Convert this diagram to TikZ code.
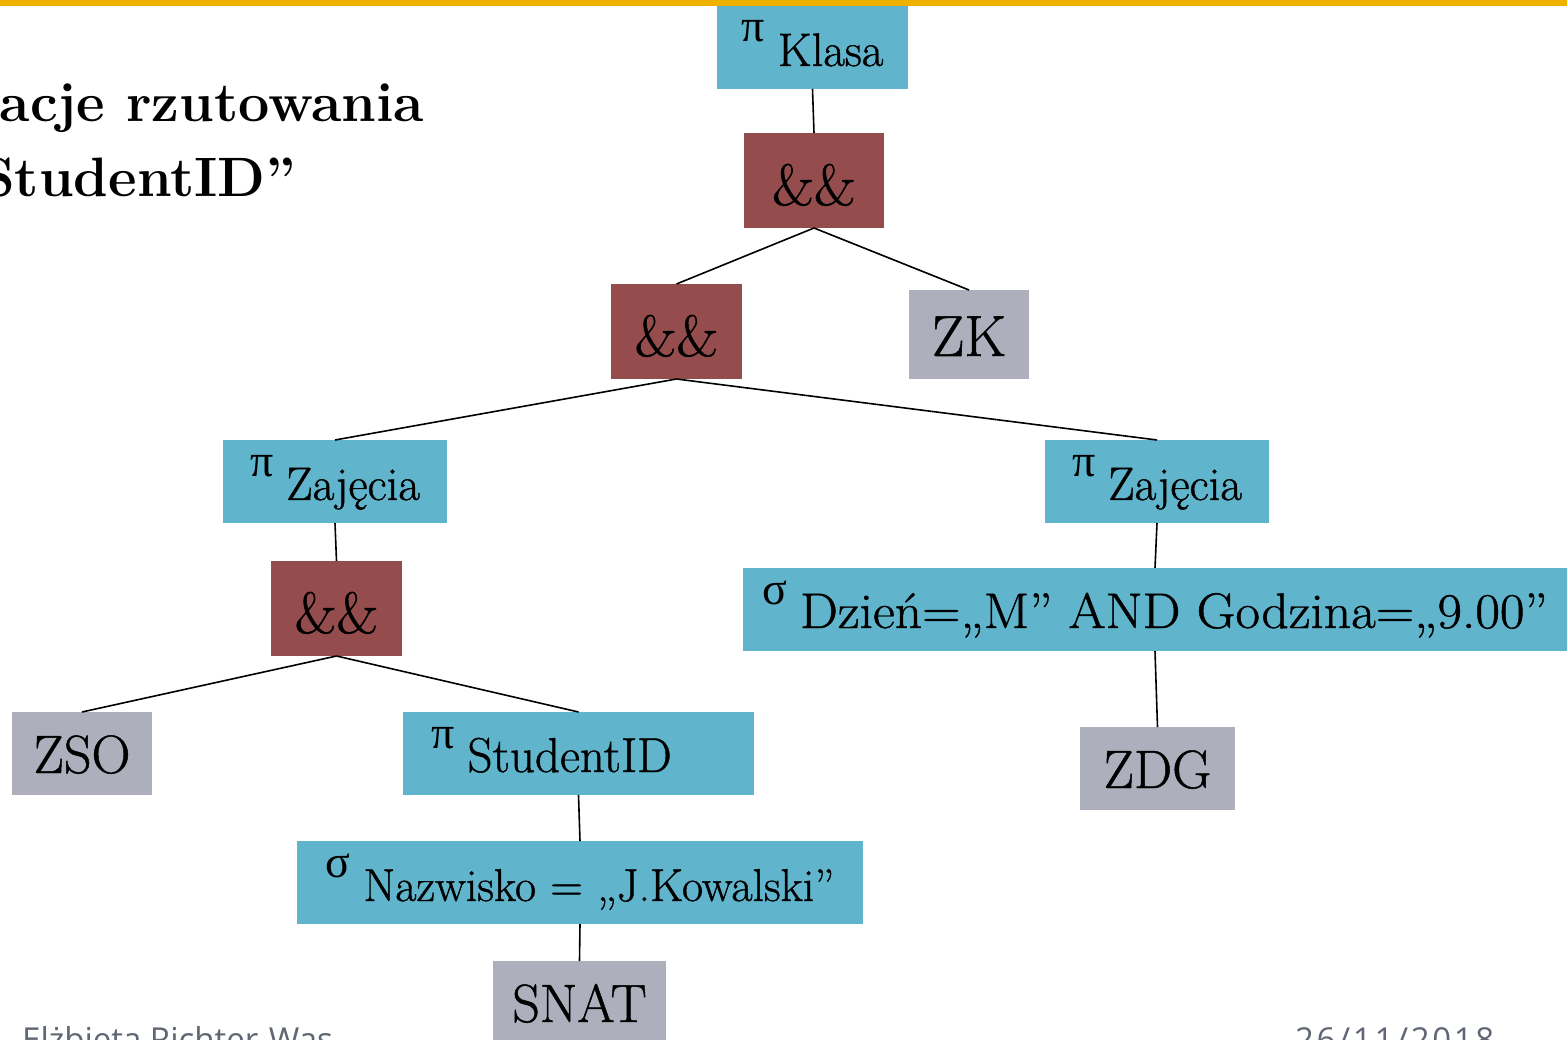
\documentclass[tikz,border=0pt]{standalone}
\usepackage{fontspec}
\newfontfamily\grk{Liberation Serif}
\newfontfamily\boxfont{Latin Modern Roman}[FakeBold=0.9]
\newfontfamily\footfont{Open Sans}
\definecolor{boxblue}{RGB}{96,180,204}
\definecolor{boxbrown}{RGB}{148,77,76}
\definecolor{boxgray}{RGB}{173,176,188}
\definecolor{barorange}{RGB}{240,176,0}
\definecolor{footgray}{RGB}{95,102,116}
\newcommand\gop[1]{\raisebox{24pt}{\fontsize{46}{46}\selectfont\grk #1}\hspace{13pt}}
\begin{document}
\begin{tikzpicture}[x=1pt,y=-1pt,
  boxbase/.style={anchor=north west, inner xsep=0pt, inner ysep=0pt, outer sep=0pt, text depth=23pt},
  bluebox/.style={boxbase, fill=boxblue, text height=60pt, font=\boxfont\fontsize{47}{50}\selectfont},
  graybox/.style={boxbase, fill=boxgray, text height=61pt, text depth=22pt, font=\boxfont\fontsize{54}{56}\selectfont},
  andbox/.style={boxbase, fill=boxbrown, text height=72pt, font=\boxfont\fontsize{58}{60}\selectfont},
  conn/.style={draw=black, line width=1.6pt},
  titletext/.style={anchor=base west, inner sep=0pt, font=\fontsize{55.5}{60}\selectfont\bfseries},
  foottext/.style={anchor=base west, inner sep=0pt, text=footgray, font=\footfont\fontsize{33}{35}\selectfont}
]
\useasboundingbox (0,0) rectangle (1567,1040);
\fill[white] (0,0) rectangle (1567,1040);
\fill[barorange] (0,0) rectangle (1567,6);

% title (cut at left edge)
\node[titletext] (t1) at (-26,122) {racje rzutowania};
\node[titletext] (t2) at (-20,197) {StudentID”};

% footer (cut at bottom edge)
\node[foottext] (f1) at (22,1051) {Elżbieta Richter-Wąs};
\node[foottext, font=\footfont\fontsize{33}{35}\selectfont\addfontfeature{LetterSpace=8}] (f2) at (1295,1051) {26/11/2018};

% nodes
\node[bluebox, minimum width=191pt] (klasa) at (717,6) {\gop{π}Klasa};
\node[andbox, minimum width=140pt] (and1) at (744,133) {\&\&};
\node[andbox, minimum width=131pt] (and2) at (611,284) {\&\&};
\node[graybox, minimum width=120pt, text height=66pt, text depth=23pt, font=\boxfont\fontsize{58}{60}\selectfont] (zk) at (909,290) {ZK};
\node[bluebox, minimum width=224pt] (zajL) at (223,440) {\gop{π}Zajęcia};
\node[bluebox, minimum width=224pt] (zajR) at (1045,440) {\gop{π}Zajęcia};
\node[andbox, minimum width=131pt] (and3) at (271,561) {\&\&};
\node[bluebox, minimum width=824pt, font=\boxfont\fontsize{50}{52}\selectfont] (dzien) at (743,568) {\gop{σ}\scalebox{1.07}[1]{Dzień=„M” AND Godzina=„9.00”}};
\node[graybox, minimum width=140pt] (zso) at (12,712) {ZSO};
\node[bluebox, minimum width=351pt, font=\boxfont\fontsize{49}{52}\selectfont] (sid) at (403,712) {\gop{π}StudentID\hspace*{54pt}};
\node[graybox, minimum width=155pt] (zdg) at (1080,727) {ZDG};
\node[bluebox, minimum width=566pt, font=\boxfont\fontsize{46}{48}\selectfont] (naz) at (297,841) {\gop{σ}Nazwisko = „J.Kowalski”};
\node[graybox, minimum width=173pt] (snat) at (493,961) {SNAT};

% connectors
\draw[conn] (klasa.south) -- (and1.north);
\draw[conn] (and1.south) -- (and2.north);
\draw[conn] (and1.south) -- (zk.north);
\draw[conn] (and2.south) -- (zajL.north);
\draw[conn] (and2.south) -- (zajR.north);
\draw[conn] (zajL.south) -- (and3.north);
\draw[conn] (and3.south) -- (zso.north);
\draw[conn] (and3.south) -- (sid.north);
\draw[conn] (sid.south) -- (naz.north);
\draw[conn] (naz.south) -- (snat.north);
\draw[conn] (zajR.south) -- (dzien.north);
\draw[conn] (dzien.south) -- (zdg.north);
\end{tikzpicture}
\end{document}
